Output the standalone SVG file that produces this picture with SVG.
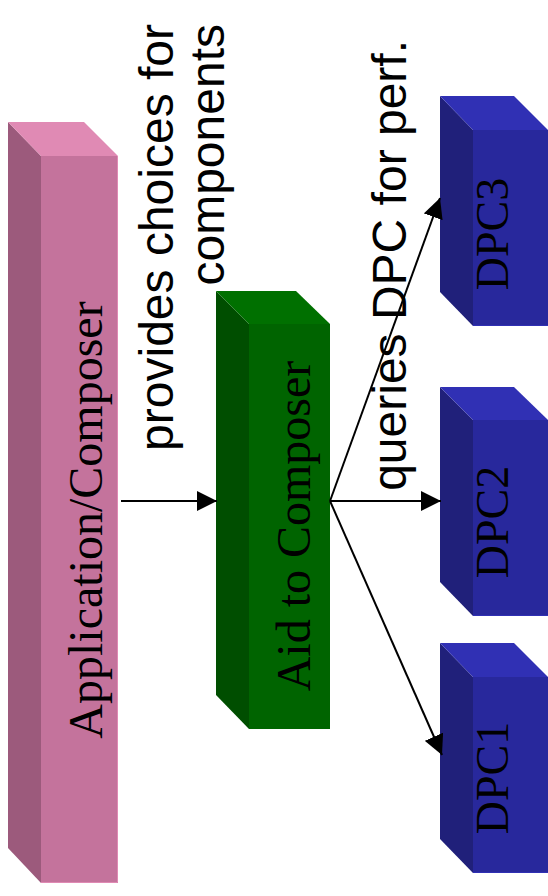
<svg xmlns="http://www.w3.org/2000/svg" width="548" height="896" viewBox="0 0 548 896">
<style>
.pink-top{fill:#E08AB4}.pink-front{fill:#C4739C}.pink-left{fill:#9C5A7C}
.green-top{fill:#007000}.green-front{fill:#006400}.green-left{fill:#004E00}
.blue-top{fill:#3030B4}.blue-front{fill:#28289C}.blue-left{fill:#20207A}
.serif{font-family:"Liberation Serif","Times New Roman",serif;font-size:48px;fill:#000}
.dpc{font-size:46px}
.sans{font-family:"Liberation Sans",Arial,sans-serif;font-size:48px;fill:#000}
.conn{stroke:#000;stroke-width:2;fill:none;marker-end:url(#arrow)}
</style>
<defs>
<marker id="arrow" markerUnits="userSpaceOnUse" markerWidth="20" markerHeight="20" refX="20" refY="10" orient="auto" viewBox="0 0 20 20">
<path d="M0,0 L20,10 L0,20 z" fill="#000"/>
</marker>
</defs>
<rect width="548" height="896" fill="#fff"/>
<g id="application-composer">
<polygon class="pink-left" points="8,122 41,156 41,883 8,848"/>
<polygon class="pink-top" points="8,122 84,122 118,156 41,156"/>
<rect class="pink-front" x="41" y="156" width="77" height="727"/>
<path d="M41,882.5 H117.5 V156" stroke="#E08AB4" stroke-width="1" fill="none"/>
<text class="serif" text-anchor="middle" transform="translate(102,520) rotate(-90)">Application/Composer</text>
</g>
<g id="aid-to-composer">
<polygon class="green-left" points="216,291 249,324 249,729 216,695"/>
<polygon class="green-top" points="216,291 296,291 330,324 249,324"/>
<rect class="green-front" x="249" y="324" width="81" height="405"/>
<text class="serif" text-anchor="middle" transform="translate(310,526) rotate(-90)">Aid to Composer</text>
</g>
<g id="dpc3">
<polygon class="blue-left" points="440,96 473,130 473,326 440,292"/>
<polygon class="blue-top" points="440,96 514,96 548,130 473,130"/>
<rect class="blue-front" x="473" y="130" width="75" height="196"/>
<path d="M473,325.5 H548" stroke="#3030B4" stroke-width="1"/>
<text class="serif dpc" text-anchor="middle" transform="translate(508,234) rotate(-90)">DPC3</text>
</g>
<g id="dpc2">
<polygon class="blue-left" points="440,387 473,420 473,616 440,582"/>
<polygon class="blue-top" points="440,387 514,387 548,420 473,420"/>
<rect class="blue-front" x="473" y="420" width="75" height="196"/>
<path d="M473,615.5 H548" stroke="#3030B4" stroke-width="1"/>
<text class="serif dpc" text-anchor="middle" transform="translate(508,522) rotate(-90)">DPC2</text>
</g>
<g id="dpc1">
<polygon class="blue-left" points="440,643 473,677 473,873 440,839"/>
<polygon class="blue-top" points="440,643 514,643 548,677 473,677"/>
<rect class="blue-front" x="473" y="677" width="75" height="196"/>
<path d="M473,872.5 H548" stroke="#3030B4" stroke-width="1"/>
<text class="serif dpc" text-anchor="middle" transform="translate(508,778) rotate(-90)">DPC1</text>
</g>
<g id="labels">
<text class="sans" text-anchor="end" transform="translate(173,24) rotate(-90)">provides choices for</text>
<text class="sans" text-anchor="end" transform="translate(224,24) rotate(-90)">components</text>
<text class="sans" text-anchor="end" transform="translate(406,40) rotate(-90)">queries DPC for perf.</text>
</g>
<g id="connectors">
<line class="conn" x1="121" y1="501" x2="217" y2="501"/>
<line class="conn" x1="330" y1="501" x2="440" y2="198"/>
<line class="conn" x1="330" y1="501" x2="441" y2="501"/>
<line class="conn" x1="330" y1="501" x2="442" y2="755"/>
</g>
</svg>
